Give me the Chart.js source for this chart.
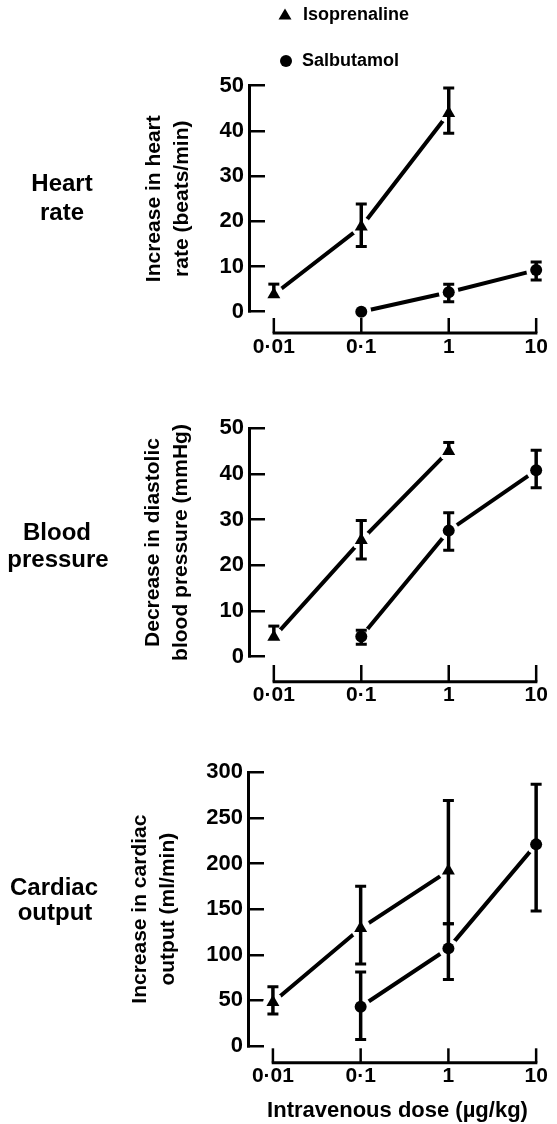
<!DOCTYPE html>
<html>
<head>
<meta charset="utf-8">
<script src="https://cdn.jsdelivr.net/npm/chart.js@4.4.0/dist/chart.umd.min.js"></script>
<style>
  body { margin: 0; background: #fff; }
  #wrap { position: relative; width: 557px; height: 1124px; overflow: hidden; }
  canvas { position: absolute; left: 0; }
  .lbl { position: absolute; font: bold 24px 'Liberation Sans', Arial, sans-serif; color: #000;
         transform: translate(-50%, -50%); white-space: nowrap; }
</style>
</head>
<body>
<div id="wrap">
  <canvas id="hr" width="557" height="370" style="top:0px"></canvas>
  <canvas id="bp" width="557" height="350" style="top:370px"></canvas>
  <canvas id="co" width="557" height="404" style="top:720px"></canvas>
  <div class="lbl" style="left:62px;top:183px">Heart</div>
  <div class="lbl" style="left:62px;top:212px">rate</div>
  <div class="lbl" style="left:57px;top:532px">Blood</div>
  <div class="lbl" style="left:58px;top:559px">pressure</div>
  <div class="lbl" style="left:54px;top:887px">Cardiac</div>
  <div class="lbl" style="left:55px;top:912px">output</div>
</div>
<script>
// dose axis
const doseTicks = [0.01, 0.1, 1, 10];
const doseLabels = ['0·01', '0·1', '1', '10'];
const isoDoses = [0.01, 0.1, 1];
const salbDoses = [0.1, 1, 10];

// heart rate (beats/min)
const hrIso = [3.8, 18.8, 43.9];
const hrIsoUp = [2.3, 5, 5.6];
const hrIsoDown = [null, 4.4, 4.4];
const hrSalb = [0, 4.3, 9.2];
const hrSalbUp = [null, 1.8, 1.8];
const hrSalbDown = [null, 2.1, 2.2];

// diastolic blood pressure (mmHg)
const bpIso = [4.3, 25.5, 45];
const bpIsoUp = [2.4, 4.3, 1.9];
const bpIsoDown = [null, 4.1, null];
const bpSalb = [4.4, 27.6, 40.8];
const bpSalbUp = [1.4, 3.9, 4.4];
const bpSalbDown = [1.7, 4.3, 3.8];

// cardiac output (ml/min)
const coIso = [48, 129, 192];
const coIsoUp = [17, 46, 77];
const coIsoDown = [13, 39, 58];
const coSalb = [43, 107, 221];
const coSalbUp = [38, 27, 66];
const coSalbDown = [36, 34, 73];

const FONT = "'Liberation Sans', Arial, sans-serif";
Chart.defaults.font.family = FONT;
Chart.defaults.color = '#000';

function pts(xs, ys) {
  return xs.map((x, i) => ({ x: x, y: ys[i] }));
}

// x axis line sitting below the plot + error bars
const doseAxis = {
  id: 'doseAxis',
  afterDatasetsDraw(chart, args, opts) {
    const ctx = chart.ctx;
    const xs = chart.scales.x, ys = chart.scales.y;
    ctx.save();
    ctx.strokeStyle = '#000';
    // error bars
    chart.data.datasets.forEach((ds, i) => {
      if (!ds.errUp) return;
      const meta = chart.getDatasetMeta(i);
      meta.data.forEach((pt, j) => {
        const v = ds.data[j].y;
        const up = ds.errUp[j], dn = ds.errDown[j];
        if (up == null && dn == null) return;
        const yTop = up != null ? ys.getPixelForValue(v + up) : pt.y;
        const yBot = dn != null ? ys.getPixelForValue(v - dn) : pt.y;
        ctx.lineWidth = 3.5;
        ctx.beginPath();
        ctx.moveTo(pt.x, yTop); ctx.lineTo(pt.x, yBot);
        ctx.stroke();
        ctx.lineWidth = 3;
        ctx.beginPath();
        if (up != null) { ctx.moveTo(pt.x - 5.5, yTop); ctx.lineTo(pt.x + 5.5, yTop); }
        if (dn != null) { ctx.moveTo(pt.x - 5.5, yBot); ctx.lineTo(pt.x + 5.5, yBot); }
        ctx.stroke();
      });
    });
    // offset dose axis
    const yLine = chart.chartArea.bottom + opts.gap;
    const x0 = xs.getPixelForValue(doseTicks[0]);
    const x1 = xs.getPixelForValue(doseTicks[doseTicks.length - 1]);
    ctx.lineWidth = 3;
    ctx.beginPath();
    ctx.moveTo(x0 - 1.2, yLine); ctx.lineTo(x1 + 1.2, yLine);
    ctx.stroke();
    ctx.lineWidth = 2.5;
    doseTicks.forEach(v => {
      const px = xs.getPixelForValue(v);
      ctx.beginPath();
      ctx.moveTo(px, yLine); ctx.lineTo(px, yLine - opts.tickLen);
      ctx.stroke();
    });
    ctx.restore();
  }
};

const legendMarks = {
  id: 'legendMarks',
  afterDraw(chart) {
    const ctx = chart.ctx;
    ctx.save();
    ctx.fillStyle = '#000';
    ctx.beginPath();
    ctx.moveTo(285, 8.5); ctx.lineTo(291.5, 19.5); ctx.lineTo(278.5, 19.5); ctx.closePath();
    ctx.fill();
    ctx.beginPath();
    ctx.arc(286, 61, 6, 0, Math.PI * 2);
    ctx.fill();
    ctx.font = 'bold 18px ' + FONT;
    ctx.textBaseline = 'middle';
    ctx.fillText(chart.data.datasets[0].label, 303, 15);
    ctx.fillText(chart.data.datasets[1].label, 302, 61);
    ctx.restore();
  }
};

function makePanel(id, p) {
  const xTickFont = { family: FONT, size: 21, weight: 'bold' };
  const yTickFont = { family: FONT, size: 22, weight: 'bold' };
  const titleFont = { family: FONT, size: 21, weight: 'bold', lineHeight: 1.3 };
  const plugins = [doseAxis];
  if (p.legend) plugins.push(legendMarks);
  return new Chart(document.getElementById(id), {
    type: 'line',
    data: {
      datasets: [
        { label: 'Isoprenaline', data: pts(isoDoses, p.iso), showLine: false, pointStyle: 'triangle',
          pointRadius: 7.5, pointBackgroundColor: '#000', pointBorderWidth: 0, order: 1, clip: false,
          errUp: p.isoUp, errDown: p.isoDown },
        { label: 'Salbutamol', data: pts(salbDoses, p.salb), showLine: false, pointStyle: 'circle',
          pointRadius: 6, pointBackgroundColor: '#000', pointBorderWidth: 0, order: 1, clip: false,
          errUp: p.salbUp, errDown: p.salbDown },
        { label: 'iso line', data: pts(isoDoses, p.iso), showLine: true, borderColor: '#000', borderWidth: 4,
          tension: 0, pointRadius: 10, pointBackgroundColor: '#fff', pointBorderWidth: 0, order: 2, clip: false },
        { label: 'salb line', data: pts(salbDoses, p.salb), showLine: true, borderColor: '#000', borderWidth: 4,
          tension: 0, pointRadius: 10, pointBackgroundColor: '#fff', pointBorderWidth: 0, order: 2, clip: false }
      ]
    },
    options: {
      responsive: false,
      animation: false,
      events: [],
      layout: { padding: { top: p.T, left: p.P, right: 8, bottom: 0 } },
      plugins: {
        legend: { display: false },
        tooltip: { enabled: false },
        doseAxis: { gap: p.gap, tickLen: p.tickLen }
      },
      scales: {
        x: {
          type: 'logarithmic',
          min: 0.0052, max: 13.3,
          grid: { display: false, drawTicks: false },
          border: { display: false },
          ticks: {
            autoSkip: false, maxRotation: 0, padding: p.xPad, font: xTickFont, color: '#000',
            callback: v => { const i = doseTicks.indexOf(v); return i >= 0 ? doseLabels[i] : ''; }
          },
          afterBuildTicks: s => { s.ticks = doseTicks.map(v => ({ value: v })); },
          afterFit: s => { s.height = p.H - p.B; s.paddingLeft = 0; s.paddingRight = 0; },
          title: p.xTitle ? {
            display: true, text: p.xTitle, color: '#000',
            font: { family: FONT, size: 22, weight: 'bold' }, padding: { top: 0, bottom: 0 }
          } : { display: false }
        },
        y: {
          min: 0, max: p.yMax,
          ticks: { stepSize: p.yStep, padding: 21, font: yTickFont, color: '#000' },
          grid: { drawOnChartArea: false, drawTicks: true, tickLength: -16, color: '#000', lineWidth: 2.5 },
          border: { display: true, color: '#000', width: 3 },
          title: { display: true, text: p.yTitle, color: '#000', font: titleFont, padding: 0 },
          afterFit: s => { s.width = p.axisX - p.P; s.paddingTop = 0; s.paddingBottom = 0; }
        }
      }
    },
    plugins: plugins
  });
}

makePanel('hr', {
  H: 370, T: 85.7, B: 311.7, P: 141, axisX: 249, xPad: 23.2, gap: 21.3, tickLen: 15,
  yMax: 50, yStep: 10, yTitle: ['Increase in heart', 'rate (beats/min)'], legend: true,
  iso: hrIso, isoUp: hrIsoUp, isoDown: hrIsoDown, salb: hrSalb, salbUp: hrSalbUp, salbDown: hrSalbDown
});

makePanel('bp', {
  H: 350, T: 58.3, B: 286.7, P: 140, axisX: 249, xPad: 26.2, gap: 25, tickLen: 16.7,
  yMax: 50, yStep: 10, yTitle: ['Decrease in diastolic', 'blood pressure (mmHg)'],
  iso: bpIso, isoUp: bpIsoUp, isoDown: bpIsoDown, salb: bpSalb, salbUp: bpSalbUp, salbDown: bpSalbDown
});

makePanel('co', {
  H: 404, T: 52.3, B: 326, P: 127, axisX: 248, xPad: 18.1, gap: 16.7, tickLen: 14.4,
  yMax: 300, yStep: 50, yTitle: ['Increase in cardiac', 'output (ml/min)'], xTitle: 'Intravenous dose (µg/kg)',
  iso: coIso, isoUp: coIsoUp, isoDown: coIsoDown, salb: coSalb, salbUp: coSalbUp, salbDown: coSalbDown
});
</script>
</body>
</html>
